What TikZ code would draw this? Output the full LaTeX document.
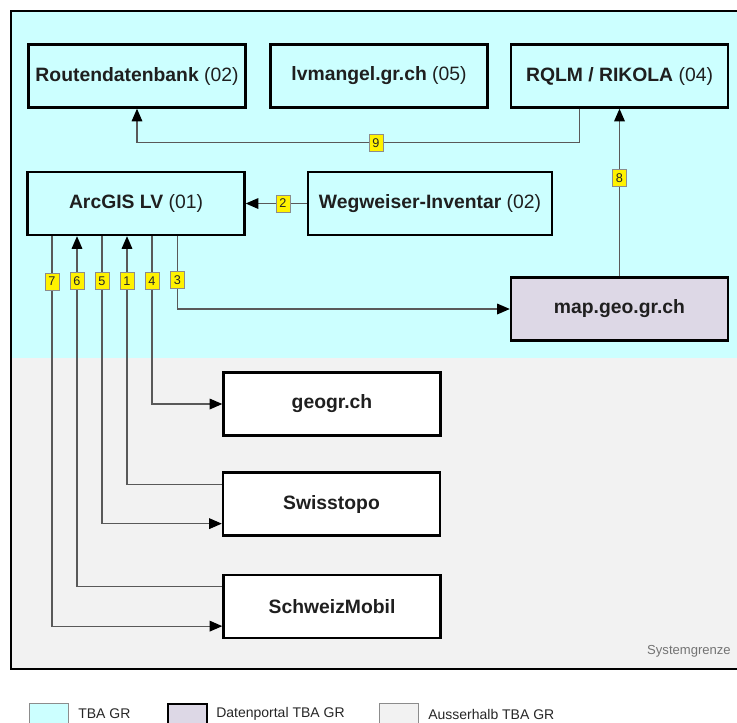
\documentclass[tikz,border=0pt]{standalone}
\usepackage{fontspec}
\setmainfont{Liberation Sans}
\usetikzlibrary{arrows.meta,calc}

\begin{document}
\begin{tikzpicture}[x=0.75pt, y=-0.75pt,
    %Option for arrows
    >={Triangle[width=8pt,length=9.5pt,color=black]},
    box/.style={draw=black, line width=1.8pt, fill=#1, minimum width=162.75pt,
        minimum height=47.25pt, inner sep=0pt, text=black!88,
        font=\fontsize{14.5}{16}\selectfont},
    box/.default=tbacyan,
    link/.style={draw=black!65, line width=0.9pt},
    num/.style={draw=black!45, fill=yellow, line width=0.5pt, minimum width=10.5pt,
        minimum height=12.75pt, inner sep=0pt, text=black!85,
        font=\fontsize{9.5}{10}\selectfont},
    legbox/.style={draw=black!45, line width=0.6pt, fill=#1, minimum width=29pt,
        minimum height=21pt, inner sep=0pt, anchor=north west},
    legtext/.style={anchor=west, inner sep=0pt, text=black!85,
        font=\fontsize{10.5}{12}\selectfont},
]
    % Colors
    \definecolor{tbacyan}{HTML}{CCFFFF}
    \definecolor{portal}{HTML}{DDD8E6}
    \definecolor{outside}{HTML}{F2F2F2}

    \clip (0,0) rectangle (737,722);

    % Frame
    \fill[tbacyan] (11,11) rectangle (750,358);
    \fill[outside] (11,358) rectangle (750,669);
    \draw[line width=1.2pt] (11,11) rectangle (750,669);
    \node[anchor=east, inner sep=0pt, text=black!55, font=\fontsize{9.8}{11}\selectfont]
        (grenze) at (731,651) {Systemgrenze};

    % Systems inside TBA GR
    \node[box] (routen) at (137,76)    {\textbf{Routendatenbank} (02)};
    \node[box] (lvm)    at (379,76)    {\textbf{lvmangel.gr.ch} (05)};
    \node[box] (rqlm)   at (619.5,76)  {\textbf{RQLM / RIKOLA} (04)};
    \node[box] (arcgis) at (136,203.5) {\textbf{ArcGIS LV} (01)};
    \node[box, minimum width=183pt] (weg) at (430,203.5) {\textbf{Wegweiser-Inventar} (02)};
    \node[box=portal] (geo) at (619.5,309) {\textbf{map.geo.gr.ch}};

    % Systems outside TBA GR
    \node[box=white] (geogr)   at (332,404)   {\textbf{geogr.ch}};
    \node[box=white] (swiss)   at (331.5,504) {\textbf{Swisstopo}};
    \node[box=white] (schweiz) at (332,606.5) {\textbf{SchweizMobil}};

    % Data flows
    \draw[link,->] ([xshift=-30pt]rqlm.south) -- ++(0,34) -| node[num, pos=0.23] {9} (routen.south);
    \draw[link,->] (geo.north) -- node[num, pos=0.585] {8} (rqlm.south);
    \draw[link,->] (weg.west) -- node[num, pos=0.39] {2} (arcgis.east);

    \draw[link,->] ([xshift=31pt]arcgis.south) |- node[num, pos=0.30] {3} (geo.west);
    \draw[link,->] ([xshift=12pt]arcgis.south) |- node[num, pos=0.133] {4} (geogr.west);
    \draw[link,->] ($(swiss.north west)!0.2!(swiss.south west)$)
        -| node[num, pos=0.91] {1} ([xshift=-6.75pt]arcgis.south);
    \draw[link,->] ([xshift=-25.5pt]arcgis.south)
        |- node[num, pos=0.078] {5} ($(swiss.north west)!0.8!(swiss.south west)$);
    \draw[link,->] ($(schweiz.north west)!0.2!(schweiz.south west)$)
        -| node[num, pos=0.936] {6} ([xshift=-44.25pt]arcgis.south);
    \draw[link,->] ([xshift=-63pt]arcgis.south)
        |- node[num, pos=0.058] {7} ($(schweiz.north west)!0.8!(schweiz.south west)$);

    % Legend
    \node[legbox=tbacyan] (legtba) at (29,703) {};
    \node[legtext] (txttba) at (78,714) {TBA GR};
    \node[legbox=portal, draw=black, line width=1.8pt] (legportal) at (167,703) {};
    \node[legtext] (txtportal) at (216,714) {Datenportal TBA GR};
    \node[legbox=outside] (legout) at (379,703) {};
    \node[legtext] (txtout) at (428,714) {Ausserhalb TBA GR};
\end{tikzpicture}
\end{document}
